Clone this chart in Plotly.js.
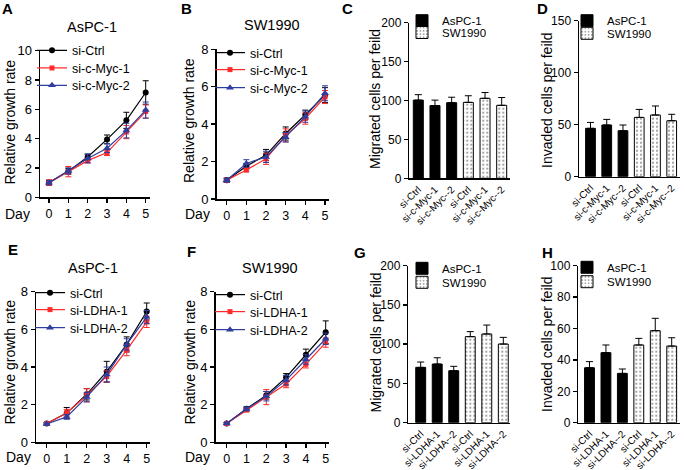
<!DOCTYPE html>
<html><head><meta charset="utf-8">
<script src="https://cdn.plot.ly/plotly-3.0.1.min.js"></script>
<style>html,body{margin:0;padding:0;background:#fff}#chart{width:685px;height:470px}</style>
</head><body><div id="chart"></div>
<script>
// ---------- DATA ----------
const days = [0, 1, 2, 3, 4, 5];
const mycSeries = ['si-Ctrl', 'si-c-Myc-1', 'si-c-Myc-2'];
const ldhaSeries = ['si-Ctrl', 'si-LDHA-1', 'si-LDHA-2'];

// A: AsPC-1, c-Myc
const A_ctrl = [1.0, 1.78, 2.75, 3.95, 5.25, 7.15];
const A_ctrl_err = [0.15, 0.2, 0.2, 0.3, 0.55, 0.8];
const A_myc1 = [1.0, 1.75, 2.5, 3.05, 4.45, 5.85];
const A_myc1_err = [0.2, 0.35, 0.15, 0.2, 0.45, 0.45];
const A_myc2 = [1.0, 1.8, 2.65, 3.35, 4.55, 5.95];
const A_myc2_err = [0.15, 0.2, 0.3, 0.3, 0.5, 0.55];
// B: SW1990, c-Myc
const B_ctrl = [1.0, 1.75, 2.35, 3.5, 4.5, 5.55];
const B_ctrl_err = [0.12, 0.15, 0.3, 0.35, 0.25, 0.4];
const B_myc1 = [1.0, 1.55, 2.15, 3.4, 4.3, 5.45];
const B_myc1_err = [0.1, 0.1, 0.3, 0.35, 0.3, 0.35];
const B_myc2 = [1.0, 1.9, 2.25, 3.3, 4.4, 5.65];
const B_myc2_err = [0.1, 0.2, 0.3, 0.25, 0.3, 0.4];
// E: AsPC-1, LDHA
const E_ctrl = [1.0, 1.55, 2.55, 3.75, 5.2, 6.95];
const E_ctrl_err = [0.05, 0.3, 0.3, 0.55, 0.4, 0.45];
const E_ldha1 = [1.0, 1.55, 2.5, 3.5, 4.9, 6.4];
const E_ldha1_err = [0.05, 0.2, 0.35, 0.3, 0.3, 0.3];
const E_ldha2 = [0.97, 1.35, 2.4, 3.6, 5.2, 6.65];
const E_ldha2_err = [0.05, 0.12, 0.25, 0.4, 0.3, 0.35];
// F: SW1990, LDHA
const F_ctrl = [1.0, 1.78, 2.5, 3.45, 4.65, 5.85];
const F_ctrl_err = [0.05, 0.1, 0.2, 0.2, 0.3, 0.6];
const F_ldha1 = [1.0, 1.72, 2.4, 3.1, 4.15, 5.3];
const F_ldha1_err = [0.05, 0.1, 0.4, 0.2, 0.2, 0.25];
const F_ldha2 = [1.0, 1.77, 2.45, 3.3, 4.4, 5.5];
const F_ldha2_err = [0.05, 0.1, 0.25, 0.25, 0.25, 0.3];

// Bar categories
const mycLabels = ['si-Ctrl', 'si-c-Myc-1', 'si-c-Myc--2', 'si-Ctrl', 'si-c-Myc-1', 'si-c-Myc--2'];
const ldhaLabels = ['si-Ctrl', 'si-LDHA-1', 'si-LDHA--2', 'si-Ctrl', 'si-LDHA-1', 'si-LDHA--2'];
const cellLines = ['AsPC-1', 'SW1990'];
// C: migrated, c-Myc
const C_aspc = [100.5, 93.5, 97.2];   const C_aspc_err = [7, 7, 7];
const C_sw = [97.6, 102.8, 93.8];     const C_sw_err = [8.5, 7.5, 10];
// D: invaded, c-Myc
const D_aspc = [46.5, 49.7, 44.2];    const D_aspc_err = [5.7, 5.4, 5.5];
const D_sw = [57, 59.3, 53.8];        const D_sw_err = [7.7, 8.7, 6.2];
// G: migrated, LDHA
const G_aspc = [70.5, 74.7, 66.2];    const G_aspc_err = [6.8, 8, 5.6];
const G_sw = [109.6, 113, 100.2];     const G_sw_err = [6.4, 11.4, 8.5];
// H: invaded, LDHA
const H_aspc = [35, 44.6, 31.4];      const H_aspc_err = [3.9, 4.9, 2.8];
const H_sw = [49.5, 58.6, 48.8];      const H_sw_err = [4.2, 7.9, 5.3];

// ---------- LAYOUT HELPERS ----------
const W = 685, HT = 470;
const FONT = 'Liberation Sans, Arial, sans-serif';
const px = x => x / W;
const py = y => 1 - y / HT;
const traces = [];
const layout = {
  width: W, height: HT, margin: {l: 0, r: 0, t: 0, b: 0},
  paper_bgcolor: '#fff', plot_bgcolor: 'rgba(0,0,0,0)',
  font: {family: FONT, color: '#000'},
  barmode: 'overlay', showlegend: true, annotations: []
};
let legendCount = 0;
function newLegend(xText, yRow, size) {
  legendCount++;
  const name = legendCount === 1 ? 'legend' : 'legend' + legendCount;
  layout[name] = {x: px(xText - 40), y: py(yRow), xanchor: 'left', yanchor: 'middle',
    bgcolor: 'rgba(0,0,0,0)', borderwidth: 0, itemwidth: 30,
    font: {family: FONT, size: size, color: '#000'}};
  return name;
}
function axisBase(extra) {
  return Object.assign({showline: true, linecolor: '#000', linewidth: 1.5, ticks: 'outside',
    ticklen: 4, tickwidth: 1.5, tickcolor: '#000', showgrid: false, zeroline: false,
    fixedrange: true, tickfont: {family: FONT, size: 13, color: '#000'}}, extra);
}
function ann(text, x, y, opts) {
  layout.annotations.push(Object.assign({text: text, x: px(x), y: py(y), xref: 'paper', yref: 'paper',
    showarrow: false, xanchor: 'center', yanchor: 'middle',
    font: {family: FONT, size: 14, color: '#000'}}, opts || {}));
}

const styles = [
  {color: '#000000', symbol: 'circle', size: 6},
  {color: '#ff2a2a', symbol: 'square', size: 5},
  {color: '#2e3d9e', symbol: 'triangle-up', size: 7}
];

function linePanel(id, g, names, series, errs, yMax, yTick, legendText, legendRows) {
  const xa = 'xaxis' + (id === 1 ? '' : id), ya = 'yaxis' + (id === 1 ? '' : id);
  const xr = 'x' + (id === 1 ? '' : id), yr = 'y' + (id === 1 ? '' : id);
  const pxPerDay = (g.d5 - g.d0) / 5;
  layout[xa] = axisBase({domain: [px(g.x0), px(g.x1)], anchor: yr,
    range: [-(g.d0 - g.x0) / pxPerDay, 5 + (g.x1 - g.d5) / pxPerDay],
    tickvals: days, ticktext: days.map(String), tickfont: {family: FONT, size: 12.5, color: '#000'}});
  layout[ya] = axisBase({domain: [py(g.yb), py(g.yt)], anchor: xr, range: [0, yMax], dtick: yTick, tick0: 0});
  series.forEach((s, i) => {
    const st = styles[i];
    traces.push({type: 'scatter', mode: 'lines+markers', x: days, y: s, name: names[i],
      xaxis: xr, yaxis: yr, legend: newLegend(legendText, legendRows[i], 12.5),
      line: {color: st.color, width: 1.2},
      marker: {color: st.color, symbol: st.symbol, size: st.size},
      error_y: {type: 'data', array: errs[i], color: st.color, thickness: 1, width: 3}});
  });
}

function barPanel(id, g, labels, aspc, aspcErr, sw, swErr, yMax, yTick, leg) {
  const xa = 'xaxis' + id, ya = 'yaxis' + id, xr = 'x' + id, yr = 'y' + id;
  const idx = labels.map((_, i) => i);
  const step = (g.b5 - g.b0) / 5;
  layout[xa] = axisBase({domain: [px(g.x0), px(g.x1)], anchor: yr, ticks: '',
    range: [-(g.b0 - g.x0) / step, 5 + (g.x1 - g.b5) / step],
    tickvals: idx, ticktext: labels, tickangle: -45,
    tickfont: {family: FONT, size: 10, color: '#000'}});
  layout[ya] = axisBase({domain: [py(g.yb), py(g.yt)], anchor: xr, range: [0, yMax], dtick: yTick, tick0: 0,
    tickfont: {family: FONT, size: 12, color: '#000'}});
  traces.push({type: 'bar', x: idx.slice(0, 3), y: aspc, name: cellLines[0], width: 0.6,
    xaxis: xr, yaxis: yr, legend: newLegend(leg.tx, leg.r1, 11.5),
    marker: {color: '#000', line: {color: '#000', width: 1}},
    error_y: {type: 'data', symmetric: false, array: aspcErr, arrayminus: aspcErr.map(() => 0),
      color: '#000', thickness: 1, width: 3.5}});
  traces.push({type: 'bar', x: idx.slice(3, 6), y: sw, name: cellLines[1], width: 0.6,
    xaxis: xr, yaxis: yr, legend: newLegend(leg.tx, leg.r2, 11.5),
    marker: {color: '#fff', line: {color: '#000', width: 1},
      pattern: {shape: '.', fgcolor: '#888', bgcolor: '#fff', size: 4, solidity: 0.2}},
    error_y: {type: 'data', symmetric: false, array: swErr, arrayminus: swErr.map(() => 0),
      color: '#000', thickness: 1, width: 3.5}});
}

// ---------- PANELS ----------
linePanel(1, {x0: 40, x1: 150, d0: 49, d5: 145.7, yt: 50.7, yb: 197.3}, mycSeries,
  [A_ctrl, A_myc1, A_myc2], [A_ctrl_err, A_myc1_err, A_myc2_err], 10, 2, 72, [50.7, 68.3, 85.7]);
linePanel(2, {x0: 216.7, x1: 329, d0: 226.7, d5: 325, yt: 49.3, yb: 199}, mycSeries,
  [B_ctrl, B_myc1, B_myc2], [B_ctrl_err, B_myc1_err, B_myc2_err], 8, 2, 250, [53, 70, 88]);
linePanel(5, {x0: 36, x1: 150, d0: 46.7, d5: 146.7, yt: 291.7, yb: 442.3}, ldhaSeries,
  [E_ctrl, E_ldha1, E_ldha2], [E_ctrl_err, E_ldha1_err, E_ldha2_err], 8, 2, 70, [293, 310, 328]);
linePanel(6, {x0: 215.7, x1: 329, d0: 226.7, d5: 325.7, yt: 291.7, yb: 442.3}, ldhaSeries,
  [F_ctrl, F_ldha1, F_ldha2], [F_ctrl_err, F_ldha1_err, F_ldha2_err], 8, 2, 250, [295, 312, 330]);

barPanel(3, {x0: 409.3, x1: 510, b0: 418.3, b5: 501.7, yt: 22.7, yb: 178.3}, mycLabels,
  C_aspc, C_aspc_err, C_sw, C_sw_err, 200, 50, {tx: 442, r1: 20.7, r2: 32.5});
barPanel(4, {x0: 579, x1: 680, b0: 590.5, b5: 671.7, yt: 20.7, yb: 176.7}, mycLabels,
  D_aspc, D_aspc_err, D_sw, D_sw_err, 150, 50, {tx: 607, r1: 20.7, r2: 33.3});
barPanel(7, {x0: 408.3, x1: 510, b0: 420.7, b5: 503.3, yt: 265.7, yb: 422.7}, ldhaLabels,
  G_aspc, G_aspc_err, G_sw, G_sw_err, 200, 50, {tx: 442, r1: 268.3, r2: 282.3});
barPanel(8, {x0: 578.3, x1: 680, b0: 589.5, b5: 671.7, yt: 265.7, yb: 422.7}, ldhaLabels,
  H_aspc, H_aspc_err, H_sw, H_sw_err, 100, 20, {tx: 607, r1: 267.3, r2: 281.7});

// ---------- TEXT ----------
const bold = {family: FONT, size: 15, color: '#000'};
[['A', 8, 9], ['B', 187, 9], ['C', 348, 9], ['D', 542, 9],
 ['E', 13, 249.5], ['F', 191, 251], ['G', 360, 252], ['H', 547, 252]]
  .forEach(l => ann('<b>' + l[0] + '</b>', l[1], l[2], {font: bold}));
ann('AsPC-1', 92, 27, {font: {family: FONT, size: 14.5, color: '#000'}});
ann('SW1990', 272, 25, {font: {family: FONT, size: 14.5, color: '#000'}});
ann('AsPC-1', 93, 268, {font: {family: FONT, size: 14.5, color: '#000'}});
ann('SW1990', 270, 268, {font: {family: FONT, size: 14.5, color: '#000'}});
ann('Relative growth rate', 9, 122.5, {textangle: -90});
ann('Relative growth rate', 189, 121, {textangle: -90});
ann('Relative growth rate', 9, 362.5, {textangle: -90});
ann('Relative growth rate', 189, 362.5, {textangle: -90});
ann('Migrated cells per feild', 375, 99, {textangle: -90});
ann('Invaded cells per feild', 547, 101, {textangle: -90});
ann('Migrated cells per feild', 375, 342.5, {textangle: -90});
ann('Invaded cells per feild', 547, 345, {textangle: -90});
ann('Day', 17.5, 213.5, {font: {family: FONT, size: 14, color: '#000'}});
ann('Day', 197, 213.5, {font: {family: FONT, size: 14, color: '#000'}});
ann('Day', 18, 457, {font: {family: FONT, size: 14, color: '#000'}});
ann('Day', 197, 457, {font: {family: FONT, size: 14, color: '#000'}});

Plotly.newPlot('chart', traces, layout, {displayModeBar: false, staticPlot: true});
</script></body></html>
